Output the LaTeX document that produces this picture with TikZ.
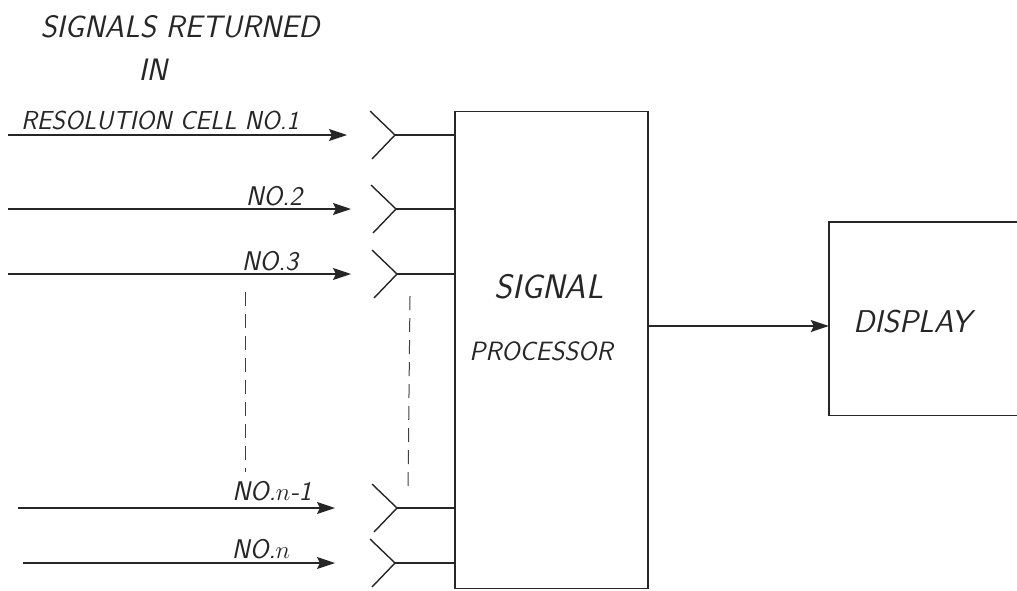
\documentclass[tikz,border=0pt]{standalone}
\usetikzlibrary{arrows.meta,calc}
\begin{document}
\begin{tikzpicture}[x=1pt,y=-1pt,
  line/.style={line width=1.4pt,draw=black!85},
  sig/.style={line, -{Stealth[length=18pt,width=12pt,inset=3pt]}},
  lbl/.style={font=\sffamily\slshape\fontsize{27}{30}\selectfont, inner sep=0pt, text=black!85},
  big/.style={font=\sffamily\slshape\fontsize{31}{34}\selectfont, inner sep=0pt, text=black!85},
  boxx/.style={line, rectangle, inner sep=0pt},
  dashline/.style={line width=1pt, draw=black!75, dash pattern=on 14pt off 8pt}
]
\useasboundingbox (0,0) rectangle (1017,590);
% title
\node[big] (t1) at (180,27) {SIGNALS RETURNED};
\node[big] (t2) at (153,70) {IN};
\node[lbl,font=\sffamily\slshape\fontsize{26}{29}\selectfont] (t3) at (160,120) {RESOLUTION CELL NO.1};
% labels
\node[lbl] (l2) at (274,196) {NO.2};
\node[lbl] (l3) at (270,261) {NO.3};
\node[lbl] (l4) at (272,491) {NO.$n$-1};
\node[lbl] (l5) at (261,549) {NO.$n$};
% boxes
\node[boxx,draw,minimum width=193pt,minimum height=477pt] (proc) at (551.5,350) {};
\node[big,font=\sffamily\slshape\fontsize{34}{38}\selectfont] (pt1) at (549,287) {SIGNAL};
\node[big,font=\sffamily\slshape\fontsize{26.5}{30}\selectfont] (pt2) at (541,351) {PROCESSOR};
\node[rectangle,minimum width=190pt,minimum height=193pt,inner sep=0pt] (disp) at (924,318.5) {};
\draw[line] (disp.north east) -- (disp.north west) -- (disp.south west) -- (disp.south east);
\node[big,font=\sffamily\slshape\fontsize{31.5}{35}\selectfont] (dt) at (912,322) {DISPLAY};
\draw[sig] (proc.east |- 0,326) -- (disp.west |- 0,326);
% signal lines
\coordinate (s1) at (8,135);   \coordinate (e1) at (347,135);
\coordinate (s2) at (8,209);   \coordinate (e2) at (351,209);
\coordinate (s3) at (8,274);   \coordinate (e3) at (351,274);
\coordinate (s4) at (18,508);  \coordinate (e4) at (335,508);
\coordinate (s5) at (23,563);  \coordinate (e5) at (335,563);
\foreach \i in {1,...,5}{\draw[sig] (s\i) -- (e\i);}
% antenna forks
\coordinate (f1) at (395,135);
\coordinate (f2) at (396,209);
\coordinate (f3) at (397,274);
\coordinate (f4) at (397,508);
\coordinate (f5) at (395,563);
\foreach \i in {1,...,5}{
  \draw[line] ($(f\i)+(-25,-24)$) -- (f\i) -- ($(f\i)+(-23,24)$);
  \draw[line] (f\i) -- (proc.west |- f\i);
}
% dashed continuation lines
\coordinate (d1a) at (245,292); \coordinate (d1b) at (245,472);
\coordinate (d2a) at (410,296); \coordinate (d2b) at (408,492);
\draw[dashline] (d1a) -- (d1b);
\draw[dashline] (d2a) -- (d2b);
\end{tikzpicture}
\end{document}
